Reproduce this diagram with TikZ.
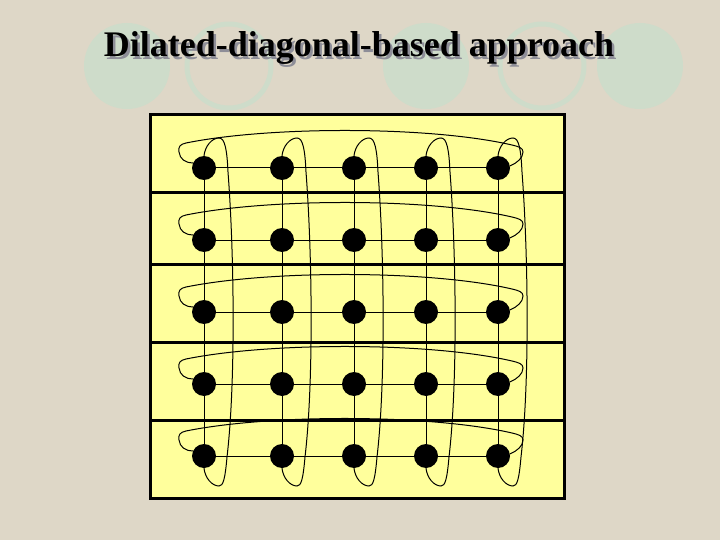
\documentclass[tikz,border=0pt]{standalone}
\usepackage{fontspec}
\setmainfont{Liberation Serif}
\definecolor{bg}{HTML}{DED7C7}
\definecolor{mint}{HTML}{CEDCCA}
\definecolor{paper}{HTML}{FFFF9C}
\definecolor{shadowgray}{HTML}{8E8E98}
\pgfdeclarelayer{back}
\pgfdeclarelayer{lines}
\pgfsetlayers{back,lines,main}
\begin{document}
\begin{tikzpicture}[x=1pt,y=-1pt,
  dot/.style={circle,fill=black,minimum size=24pt,inner sep=0pt},
  thinline/.style={line width=1pt,draw=black},
  sepline/.style={line width=3pt,draw=black},
  blob/.style={fill=mint},
  ring/.style={draw=mint,line width=5pt},
  titletext/.style={font=\fontsize{36}{40}\selectfont\bfseries,anchor=base,inner sep=0pt}]
\begin{pgfonlayer}{back}
  \fill[bg] (0,0) rectangle (720,540);
  \useasboundingbox (0,0) rectangle (720,540);
  % decorative circles
  \fill[blob] (127,66) circle (43);
  \draw[ring] (229,66) circle (42);
  \fill[blob] (426,66) circle (43);
  \draw[ring] (542,66) circle (42);
  \fill[blob] (640,66) circle (43);
  % title with shadow
  \node[titletext,text=shadowgray] (titleshadow) at (361.5,59.5) {Dilated-diagonal-based approach};
  \node[titletext] (title) at (359,57) {Dilated-diagonal-based approach};
  % yellow box and row separators
  \draw[sepline,fill=paper] (150.7,114.7) rectangle (564,498);
  \foreach \s in {192.3,264.5,342,420}
    \draw[sepline] (150.7,\s) -- (564,\s);
\end{pgfonlayer}
% dots
\foreach \r/\Y in {1/168,2/240,3/312,4/384,5/456}
  \foreach \c/\X in {1/204,2/282,3/354,4/426,5/498}
    \node[dot] (d\r\c) at (\X,\Y) {};
\begin{pgfonlayer}{lines}
  % grid lines
  \foreach \r in {1,...,5}
    \draw[thinline] (d\r1.center) -- (d\r5.center);
  \foreach \c in {1,...,5}
    \draw[thinline] (d1\c.center) -- (d5\c.center);
  % horizontal (row) loops
  \foreach \r/\Y in {1/168,2/240,3/312,4/384,5/456}
    \draw[thinline] (d\r5.10) .. controls (517,\Y-5) and (523,\Y-10) .. (523,\Y-16)
      .. controls (523,\Y-20) and (519,\Y-21.4) .. (512,\Y-23)
      .. controls (430,\Y-42) and (270,\Y-42) .. (186,\Y-25)
      .. controls (180,\Y-23.8) and (178,\Y-21) .. (179,\Y-16)
      .. controls (180,\Y-9) and (185,\Y-5) .. (d\r1.155);
  % vertical (column) loops
  \foreach \c/\X in {1/204,2/282,3/354,4/426,5/498}
    \draw[thinline] (d1\c.north) .. controls (\X+1,146) and (\X+8,138) .. (\X+15,138)
      .. controls (\X+21,138) and (\X+23,150) .. (\X+24,172)
      .. controls (\X+30,250) and (\X+32,380) .. (\X+23,457)
      .. controls (\X+21,480) and (\X+19,486) .. (\X+15,486)
      .. controls (\X+8,486) and (\X+1,478) .. (d5\c.south);
\end{pgfonlayer}
\end{tikzpicture}
\end{document}
